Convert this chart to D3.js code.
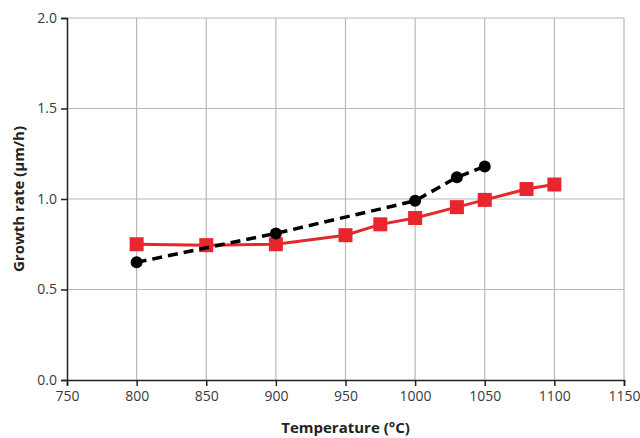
<!DOCTYPE html>
<html>
<head>
<meta charset="utf-8">
<script src="https://cdn.jsdelivr.net/npm/d3@7"></script>
<style>
  body { margin: 0; background: #fff; }
  text { font-family: "Open Sans", "DejaVu Sans", sans-serif; }
</style>
</head>
<body>
<svg id="chart" width="640" height="438"></svg>
<script>
var blackTemps = [800, 900, 1000, 1030, 1050];
var blackRates = [0.65, 0.81, 0.99, 1.12, 1.18];
var redTemps = [800, 850, 900, 950, 975, 1000, 1030, 1050, 1080, 1100];
var redRates = [0.75, 0.745, 0.75, 0.80, 0.86, 0.895, 0.955, 0.995, 1.055, 1.08];
var xTicks = [750, 800, 850, 900, 950, 1000, 1050, 1100, 1150];
var yTicks = [0.0, 0.5, 1.0, 1.5, 2.0];

var svg = d3.select('#chart');
var margin = {left: 67, right: 16, top: 18, bottom: 58};
var width = 640 - margin.left - margin.right;
var height = 438 - margin.top - margin.bottom;

var x = d3.scaleLinear().domain([750, 1150]).range([0, width]);
var y = d3.scaleLinear().domain([0, 2]).range([height, 0]);

var g = svg.append('g').attr('transform', 'translate(' + margin.left + ',' + margin.top + ')');

// grid
g.selectAll('.vgrid').data(xTicks.slice(1))
  .enter().append('line')
  .attr('x1', function(d){ return x(d); }).attr('x2', function(d){ return x(d); })
  .attr('y1', 0).attr('y2', height)
  .style('stroke', '#b8b8b8').style('stroke-width', 1.2);
g.selectAll('.hgrid').data(yTicks.slice(1))
  .enter().append('line')
  .attr('x1', 0).attr('x2', width)
  .attr('y1', function(d){ return y(d); }).attr('y2', function(d){ return y(d); })
  .style('stroke', '#b8b8b8').style('stroke-width', 1.2);

// axes
var xAxis = d3.axisBottom(x).tickValues(xTicks).tickSize(6).tickPadding(5)
  .tickFormat(d3.format('d'));
var yAxis = d3.axisLeft(y).tickValues(yTicks).tickSize(6).tickPadding(4)
  .tickFormat(d3.format('.1f'));

var gx = g.append('g').attr('transform', 'translate(0,' + height + ')').call(xAxis);
var gy = g.append('g').call(yAxis);
[gx, gy].forEach(function(a) {
  a.select('.domain').style('stroke', '#222').style('stroke-width', 1.5);
  a.selectAll('.tick line').style('stroke', '#222').style('stroke-width', 1.5);
  a.selectAll('.tick text').style('font-size', '14px').style('fill', '#3a3a3a');
});

// titles
svg.append('text')
  .attr('x', margin.left + x(950)).attr('y', 433)
  .attr('text-anchor', 'middle')
  .style('font-size', '15px').style('font-weight', 'bold').style('fill', '#222')
  .text('Temperature (°C)');
svg.append('text')
  .attr('transform', 'translate(24,' + (margin.top + y(1)) + ') rotate(-90)')
  .attr('text-anchor', 'middle')
  .style('font-size', '15px').style('font-weight', 'bold').style('fill', '#222')
  .text('Growth rate (µm/h)');

var red = d3.range(redTemps.length).map(function(i){ return {t: redTemps[i], r: redRates[i]}; });
var black = d3.range(blackTemps.length).map(function(i){ return {t: blackTemps[i], r: blackRates[i]}; });

var line = d3.line().x(function(d){ return x(d.t); }).y(function(d){ return y(d.r); });

g.append('path').datum(red).attr('d', line)
  .style('fill', 'none').style('stroke', '#e8262d').style('stroke-width', 3);
g.selectAll('.red-pt').data(red).enter().append('rect')
  .attr('x', function(d){ return x(d.t) - 7; })
  .attr('y', function(d){ return y(d.r) - 7; })
  .attr('width', 14).attr('height', 14)
  .style('fill', '#e8262d');

g.append('path').datum(black).attr('d', line)
  .style('fill', 'none').style('stroke', '#000').style('stroke-width', 3.5)
  .style('stroke-dasharray', '10,6');
g.selectAll('.black-pt').data(black).enter().append('circle')
  .attr('cx', function(d){ return x(d.t); })
  .attr('cy', function(d){ return y(d.r); })
  .attr('r', 6)
  .style('fill', '#000');
</script>
</body>
</html>
